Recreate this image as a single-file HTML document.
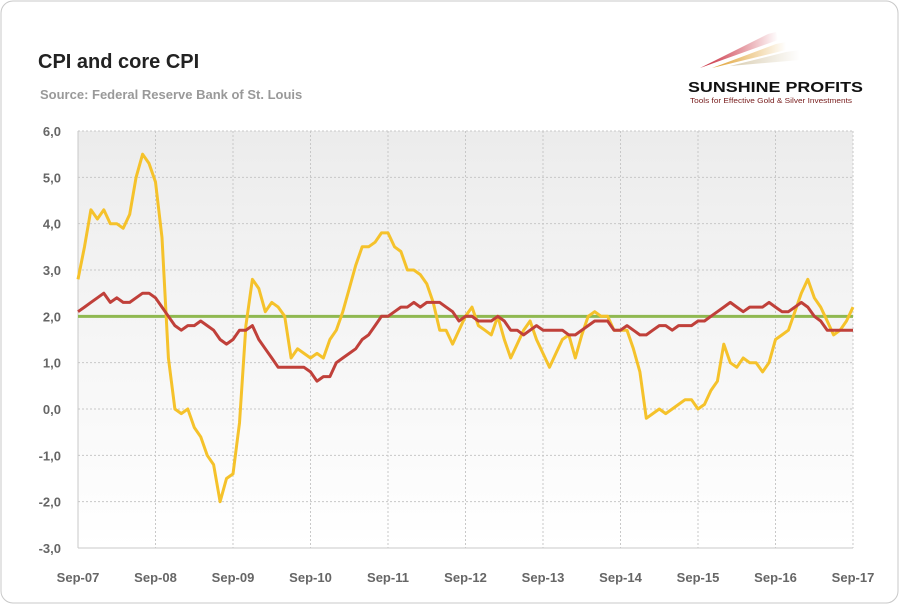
<!DOCTYPE html>
<html><head><meta charset="utf-8"><style>
body{margin:0;background:#fff;font-family:"Liberation Sans",sans-serif}
#wrap{position:relative;width:900px;height:605px;overflow:hidden}
</style></head><body>
<div id="wrap">
<svg id="svg" width="900" height="605" xmlns="http://www.w3.org/2000/svg">
<defs>
<linearGradient id="bg" x1="0" y1="0" x2="0" y2="1"><stop offset="0" stop-color="#ececec"/><stop offset="1" stop-color="#ffffff"/></linearGradient>
<linearGradient id="fadeR" x1="0" y1="0" x2="1" y2="0"><stop offset="0" stop-color="#c8283a"/><stop offset="1" stop-color="#c8283a" stop-opacity="0"/></linearGradient>
<linearGradient id="fadeO" x1="0" y1="0" x2="1" y2="0"><stop offset="0" stop-color="#e0a030"/><stop offset="1" stop-color="#e0a030" stop-opacity="0"/></linearGradient>
<linearGradient id="fadeB" x1="0" y1="0" x2="1" y2="0"><stop offset="0" stop-color="#d8ccb0"/><stop offset="1" stop-color="#d8ccb0" stop-opacity="0"/></linearGradient>
</defs>
<rect x="1" y="1" width="897" height="602" rx="12" fill="#fff" stroke="#c8c8c8"/>
<text x="38" y="68" font-size="20" font-weight="bold" fill="#222">CPI and core CPI</text>
<text x="40" y="99" font-size="13" font-weight="bold" fill="#999">Source: Federal Reserve Bank of St. Louis</text>
<g>
<polygon points="700,68 768,34 776,32 778,40" fill="url(#fadeR)"/>
<polygon points="712,68 776,44 786,42 786,50" fill="url(#fadeO)"/>
<polygon points="730,66 786,52 800,50 800,60" fill="url(#fadeB)"/>
<text x="688" y="92" font-size="15" font-weight="bold" fill="#111" textLength="175" lengthAdjust="spacingAndGlyphs">SUNSHINE PROFITS</text>
<text x="690" y="103" font-size="7.5" fill="#7a2020" textLength="162" lengthAdjust="spacingAndGlyphs">Tools for Effective Gold &amp; Silver Investments</text>
</g>
<rect x="78" y="131" width="775" height="417" fill="url(#bg)"/>
<g id="grid"></g><g id="axes"></g><g id="lines"></g>
</svg>
</div>
<script>
const xLabels=["Sep-07","Sep-08","Sep-09","Sep-10","Sep-11","Sep-12","Sep-13","Sep-14","Sep-15","Sep-16","Sep-17"];
const yTicks=[6,5,4,3,2,1,0,-1,-2,-3];
const cpi=[2.8,3.5,4.3,4.1,
4.3,4.0,4.0,3.9,4.2,5.0,5.5,5.3,4.9,3.7,1.1,0.0,
-0.1,0.0,-0.4,-0.6,-1.0,-1.2,-2.0,-1.5,-1.4,-0.3,1.8,2.8,
2.6,2.1,2.3,2.2,2.0,1.1,1.3,1.2,1.1,1.2,1.1,1.5,
1.7,2.1,2.6,3.1,3.5,3.5,3.6,3.8,3.8,3.5,3.4,3.0,
3.0,2.9,2.7,2.3,1.7,1.7,1.4,1.7,2.0,2.2,1.8,1.7,
1.6,2.0,1.5,1.1,1.4,1.7,1.9,1.5,1.2,0.9,1.2,1.5,
1.6,1.1,1.6,2.0,2.1,2.0,2.0,1.7,1.7,1.7,1.3,0.8,
-0.2,-0.1,0.0,-0.1,0.0,0.1,0.2,0.2,0.0,0.1,0.4,0.6,
1.4,1.0,0.9,1.1,1.0,1.0,0.8,1.0,1.5,1.6,1.7,2.1,
2.5,2.8,2.4,2.2,1.9,1.6,1.7,1.9,2.2];
const core=[2.1,2.2,2.3,2.4,
2.5,2.3,2.4,2.3,2.3,2.4,2.5,2.5,2.4,2.2,2.0,1.8,
1.7,1.8,1.8,1.9,1.8,1.7,1.5,1.4,1.5,1.7,1.7,1.8,
1.5,1.3,1.1,0.9,0.9,0.9,0.9,0.9,0.8,0.6,0.7,0.7,
1.0,1.1,1.2,1.3,1.5,1.6,1.8,2.0,2.0,2.1,2.2,2.2,
2.3,2.2,2.3,2.3,2.3,2.2,2.1,1.9,2.0,2.0,1.9,1.9,
1.9,2.0,1.9,1.7,1.7,1.6,1.7,1.8,1.7,1.7,1.7,1.7,
1.6,1.6,1.7,1.8,1.9,1.9,1.9,1.7,1.7,1.8,1.7,1.6,
1.6,1.7,1.8,1.8,1.7,1.8,1.8,1.8,1.9,1.9,2.0,2.1,
2.2,2.3,2.2,2.1,2.2,2.2,2.2,2.3,2.2,2.1,2.1,2.2,
2.3,2.2,2.0,1.9,1.7,1.7,1.7,1.7,1.7];
const target=[2.0];
const X0=78,X1=853,Y0=131,Y1=548,YMAX=6,YMIN=-3;
const nM=cpi.length-1;
const xs=i=>X0+(X1-X0)*i/nM;
const ys=v=>Y0+(YMAX-v)/(YMAX-YMIN)*(Y1-Y0);
const NS="http://www.w3.org/2000/svg";
function mk(tag,attrs,parent){const e=document.createElementNS(NS,tag);for(const k in attrs)e.setAttribute(k,attrs[k]);document.getElementById(parent).appendChild(e);return e;}
yTicks.forEach(v=>{
 const l=mk("line",{x1:X0,x2:X1,y1:ys(v),y2:ys(v),stroke:"#c8c8c8","stroke-dasharray":v===-3?"":"2,2"},"grid");
 
 
 const t=mk("text",{x:61,y:ys(v)+5,"text-anchor":"end","font-size":"13","font-weight":"bold",fill:"#666"},"axes");
 t.textContent=v.toFixed(1).replace(".",",");
 
 
});
xLabels.forEach((s,i)=>{
 const x=xs(i*12);
 const l=mk("line",{x1:x,x2:x,y1:Y0,y2:Y1,stroke:"#c8c8c8","stroke-dasharray":i===0?"":"2,2"},"grid");
 
 
 const t=mk("text",{x:x,y:582,"text-anchor":"middle","font-size":"13","font-weight":"bold",fill:"#666"},"axes");
 t.textContent=s;
 
 
});
const tl=mk("line",{x1:X0,x2:X1,y1:ys(target[0]),y2:ys(target[0]),stroke:"#8fb850","stroke-width":3},"lines");


function path(arr,color,name){
 const d=arr.map((v,i)=>(i?"L":"M")+xs(i).toFixed(1)+","+ys(v).toFixed(1)).join("");
 const p=mk("path",{d:d,fill:"none",stroke:color,"stroke-width":3,"stroke-linejoin":"round"},"lines");
 
 
}
path(cpi,"#f5c22b","cpi-line");
path(core,"#c0403a","core-cpi-line");
</script>
</body></html>
